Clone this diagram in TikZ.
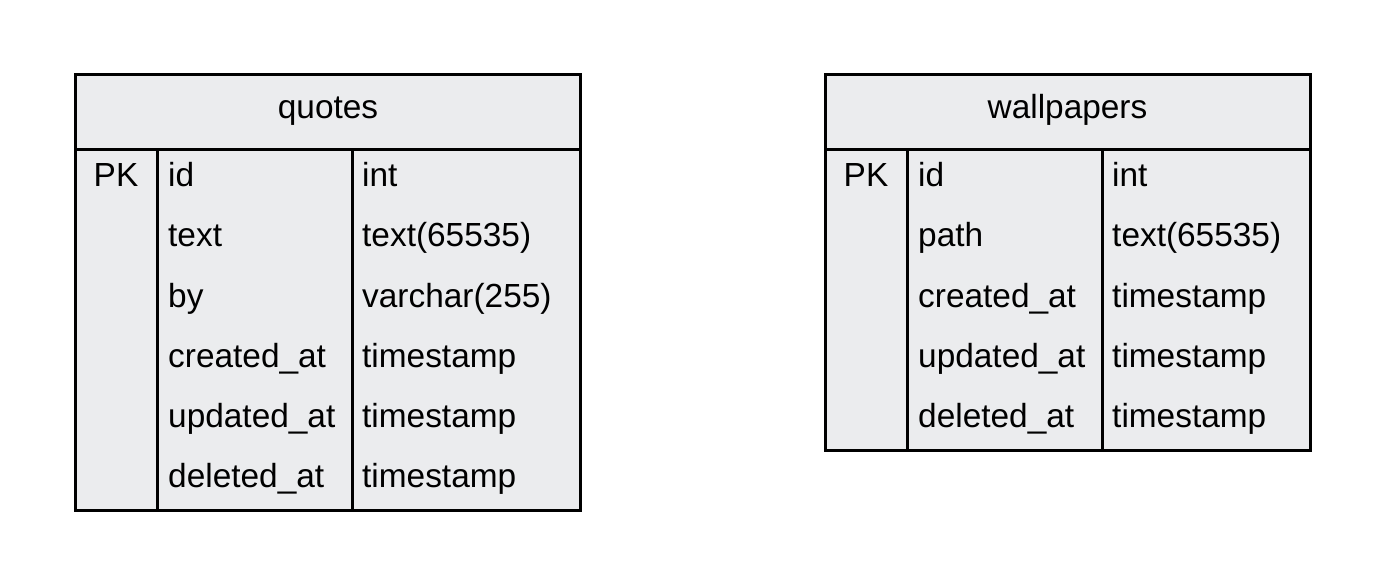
\documentclass[tikz,border=0pt]{standalone}
\usepackage{fontspec}
\setmainfont{Liberation Sans}
\definecolor{tablefill}{RGB}{235,236,238}
\begin{document}
\begin{tikzpicture}[x=1pt,y=-1pt,
  tbl/.style={draw=black,fill=tablefill,line width=3pt},
  sep/.style={draw=black,line width=3pt},
  cell/.style={anchor=base west,inner sep=0pt,font=\fontsize{33.4}{40}\selectfont},
  pk/.style={anchor=base,inner sep=0pt,font=\fontsize{33.4}{40}\selectfont},
  title/.style={anchor=base,inner sep=0pt,font=\fontsize{33.4}{40}\selectfont}]
\useasboundingbox (0,0) rectangle (1386,585);
\fill[white] (0,0) rectangle (1386,585);

% ---------- quotes ----------
\path[tbl] (75,75) rectangle (580,510);
\draw[sep] (75,150) -- (580,150);
\draw[sep] (157,150) -- (157,510);
\draw[sep] (352,150) -- (352,510);
\node[title] (qtitle) at (328,119) {quotes};
\node[pk] (qpk) at (116,187) {PK};
\node[cell] (q1n) at (168,187) {id};          \node[cell] (q1t) at (362,187) {int};
\node[cell] (q2n) at (168,247) {text};        \node[cell] (q2t) at (362,247) {text(65535)};
\node[cell] (q3n) at (168,307) {by};          \node[cell] (q3t) at (362,307) {varchar(255)};
\node[cell] (q4n) at (168,367) {created\_at}; \node[cell] (q4t) at (362,367) {timestamp};
\node[cell] (q5n) at (168,427) {updated\_at}; \node[cell] (q5t) at (362,427) {timestamp};
\node[cell] (q6n) at (168,487) {deleted\_at}; \node[cell] (q6t) at (362,487) {timestamp};

% ---------- wallpapers ----------
\path[tbl] (825,75) rectangle (1310,450);
\draw[sep] (825,150) -- (1310,150);
\draw[sep] (907,150) -- (907,450);
\draw[sep] (1102,150) -- (1102,450);
\node[title] (wtitle) at (1067.5,119) {wallpapers};
\node[pk] (wpk) at (866,187) {PK};
\node[cell] (w1n) at (918,187) {id};          \node[cell] (w1t) at (1112,187) {int};
\node[cell] (w2n) at (918,247) {path};        \node[cell] (w2t) at (1112,247) {text(65535)};
\node[cell] (w3n) at (918,307) {created\_at}; \node[cell] (w3t) at (1112,307) {timestamp};
\node[cell] (w4n) at (918,367) {updated\_at}; \node[cell] (w4t) at (1112,367) {timestamp};
\node[cell] (w5n) at (918,427) {deleted\_at}; \node[cell] (w5t) at (1112,427) {timestamp};
\end{tikzpicture}
\end{document}
